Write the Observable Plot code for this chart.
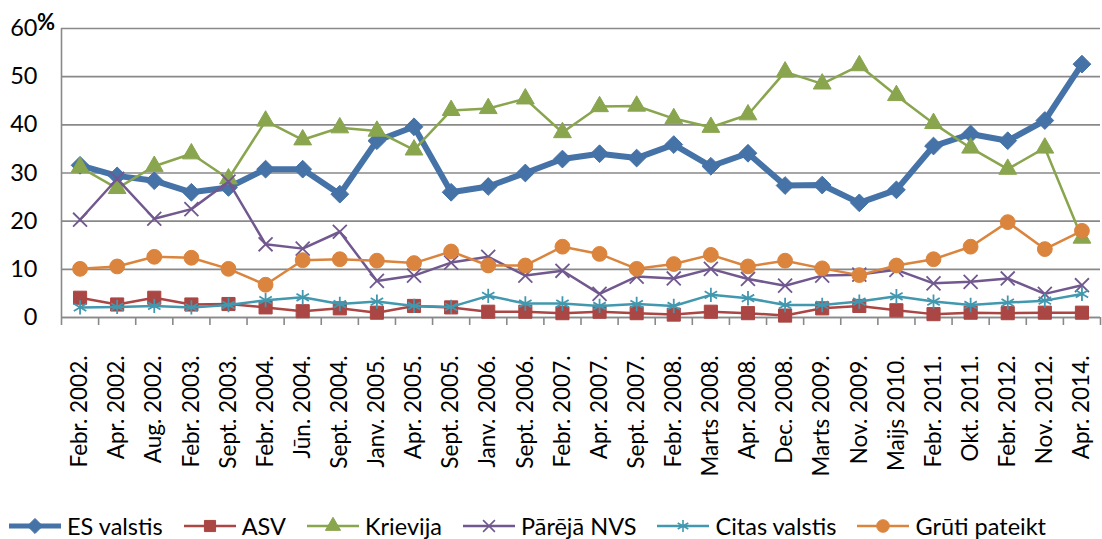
<!DOCTYPE html>
<html>
<head>
<meta charset="utf-8">
<script src="https://cdn.jsdelivr.net/npm/d3@7"></script>
<script src="https://cdn.jsdelivr.net/npm/@observablehq/plot@0.6"></script>
<style>
  html, body { margin: 0; padding: 0; background: #fff; }
  #wrap { position: relative; width: 1102px; height: 539px; font-family: Lato, "Open Sans", sans-serif; color: #000; }
  #pct { position: absolute; left: 37px; top: 8px; font-weight: bold; font-size: 22px; }
  #legend { position: absolute; left: 8px; top: 512px; display: flex; align-items: center; font-size: 23.5px; white-space: nowrap; }
  .item { display: flex; align-items: center; margin-right: 20px; }
  .item svg { margin-right: 5px; }
</style>
</head>
<body>
<div id="wrap"><div id="chart"></div><div id="pct">%</div><div id="legend"></div></div>
<script>
const categories = ["Febr. 2002.", "Apr. 2002.", "Aug. 2002.", "Febr. 2003.", "Sept. 2003.", "Febr. 2004.", "Jūn. 2004.", "Sept. 2004.", "Janv. 2005.", "Apr. 2005.", "Sept. 2005.", "Janv. 2006.", "Sept. 2006.", "Febr. 2007.", "Apr. 2007.", "Sept. 2007.", "Febr. 2008.", "Marts 2008.", "Apr. 2008.", "Dec. 2008.", "Marts 2009.", "Nov. 2009.", "Maijs 2010.", "Febr. 2011.", "Okt. 2011.", "Febr. 2012.", "Nov. 2012.", "Apr. 2014."];

const esValstis    = [31.6, 29.4, 28.4, 26.0, 27.0, 30.8, 30.8, 25.6, 36.7, 39.6, 26.0, 27.2, 30.0, 32.9, 34.0, 33.1, 35.9, 31.4, 34.1, 27.4, 27.5, 23.8, 26.5, 35.6, 38.1, 36.7, 40.9, 52.6];
const asv          = [4.1, 2.7, 4.1, 2.7, 2.8, 2.1, 1.3, 1.9, 1.0, 2.4, 2.1, 1.2, 1.2, 0.9, 1.2, 0.9, 0.6, 1.2, 0.9, 0.4, 1.9, 2.4, 1.5, 0.7, 1.0, 0.9, 1.0, 1.0];
const krievija     = [31.2, 26.8, 31.4, 34.0, 28.8, 40.8, 36.9, 39.4, 38.7, 34.8, 43.0, 43.4, 45.4, 38.4, 43.8, 43.9, 41.3, 39.5, 42.1, 51.0, 48.5, 52.3, 46.1, 40.3, 35.2, 30.8, 35.2, 16.5];
const parejaNVS    = [20.3, 28.8, 20.5, 22.5, 28.2, 15.2, 14.3, 17.8, 7.6, 8.7, 11.4, 12.6, 8.7, 9.7, 4.9, 8.5, 8.1, 10.1, 8.0, 6.6, 8.7, 8.9, 9.9, 7.1, 7.4, 8.1, 4.9, 6.7];
const citasValstis = [2.1, 2.2, 2.4, 2.1, 2.6, 3.6, 4.2, 2.8, 3.3, 2.4, 2.2, 4.5, 2.9, 2.9, 2.4, 2.8, 2.4, 4.7, 4.0, 2.6, 2.6, 3.3, 4.4, 3.3, 2.6, 3.1, 3.5, 4.9];
const grutiPateikt = [10.1, 10.6, 12.6, 12.4, 10.1, 6.8, 11.9, 12.1, 11.8, 11.3, 13.7, 10.8, 10.8, 14.7, 13.2, 10.1, 11.1, 13.0, 10.6, 11.8, 10.2, 8.8, 10.8, 12.1, 14.7, 19.8, 14.2, 18.0];
const yTicks = [0, 10, 20, 30, 40, 50, 60];

const series = [
  {name: "ES valstis",   values: esValstis,    color: "#4572A7", symbol: "diamond2", r: 8,   lw: 6,   filled: true},
  {name: "ASV",          values: asv,          color: "#AA4643", symbol: "square",   r: 7.4, lw: 2.5, filled: true},
  {name: "Krievija",     values: krievija,     color: "#89A54E", symbol: "triangle", r: 6.6, lw: 2.5, filled: true},
  {name: "Pārējā NVS",   values: parejaNVS,    color: "#71588F", symbol: "times",    r: 6.4, lw: 2.5, filled: false},
  {name: "Citas valstis",values: citasValstis, color: "#4198AF", symbol: "asterisk", r: 6.8, lw: 2.5, filled: false},
  {name: "Grūti pateikt",values: grutiPateikt, color: "#DB843D", symbol: "circle",   r: 7.4, lw: 2.5, filled: true}
];

const gray = "#898989";
const marks = [
  Plot.gridY(yTicks, {stroke: gray, strokeOpacity: 1, strokeWidth: 1.6}),
  Plot.ruleX([-0.5], {stroke: gray, strokeWidth: 1.6}),
  Plot.ruleY([0], {stroke: gray, strokeWidth: 1.6}),
  Plot.axisY({ticks: yTicks, tickSize: 0, tickPadding: 24, fontSize: 23.5, label: null}),
  Plot.axisX({ticks: d3.range(categories.length + 1).map(i => i - 0.5), tickFormat: () => "", tickSize: 8, stroke: gray, strokeWidth: 1.6, label: null}),
  Plot.axisX({ticks: d3.range(categories.length), tickFormat: i => categories[i], tickSize: 0, tickPadding: 38, tickRotate: -90, fontSize: 22.5, label: null})
];
for (const s of series) {
  const rows = s.values.map((v, i) => ({i, v}));
  marks.push(Plot.line(rows, {x: "i", y: "v", stroke: s.color, strokeWidth: s.lw, strokeLinejoin: "round"}));
  marks.push(Plot.dot(rows, {x: "i", y: "v", symbol: () => s.symbol, r: s.r,
    fill: s.filled ? s.color : "none", stroke: s.color, strokeWidth: s.filled ? 1 : 1.8}));
}

const chart = Plot.plot({
  width: 1102, height: 500,
  marginTop: 28, marginBottom: 183, marginLeft: 61, marginRight: 2,
  style: {fontFamily: "Lato, 'Open Sans', sans-serif", color: "#000", background: "#fff"},
  x: {type: "linear", domain: [-0.5, categories.length - 0.5]},
  y: {domain: [0, 60]},
  symbol: {type: "identity"},
  marks
});
document.getElementById("chart").appendChild(chart);

// Legend
const legend = document.getElementById("legend");
const symMap = {diamond2: d3.symbolDiamond2, square: d3.symbolSquare, triangle: d3.symbolTriangle, times: d3.symbolTimes, asterisk: d3.symbolAsterisk, circle: d3.symbolCircle};
for (const s of series) {
  const item = document.createElement("div");
  item.className = "item";
  const svg = d3.create("svg").attr("width", 54).attr("height", 22);
  svg.append("line").attr("x1", 1).attr("x2", 53).attr("y1", 11).attr("y2", 11)
    .attr("stroke", s.color).attr("stroke-width", s.lw === 6 ? 5 : 2.5);
  svg.append("path").attr("transform", "translate(27,11)")
    .attr("d", d3.symbol(symMap[s.symbol], Math.PI * (s.r * 0.85) ** 2)())
    .attr("fill", s.filled ? s.color : "none").attr("stroke", s.color).attr("stroke-width", s.filled ? 1 : 1.6);
  item.appendChild(svg.node());
  const t = document.createElement("span");
  t.textContent = s.name;
  item.appendChild(t);
  legend.appendChild(item);
}
</script>
</body>
</html>
